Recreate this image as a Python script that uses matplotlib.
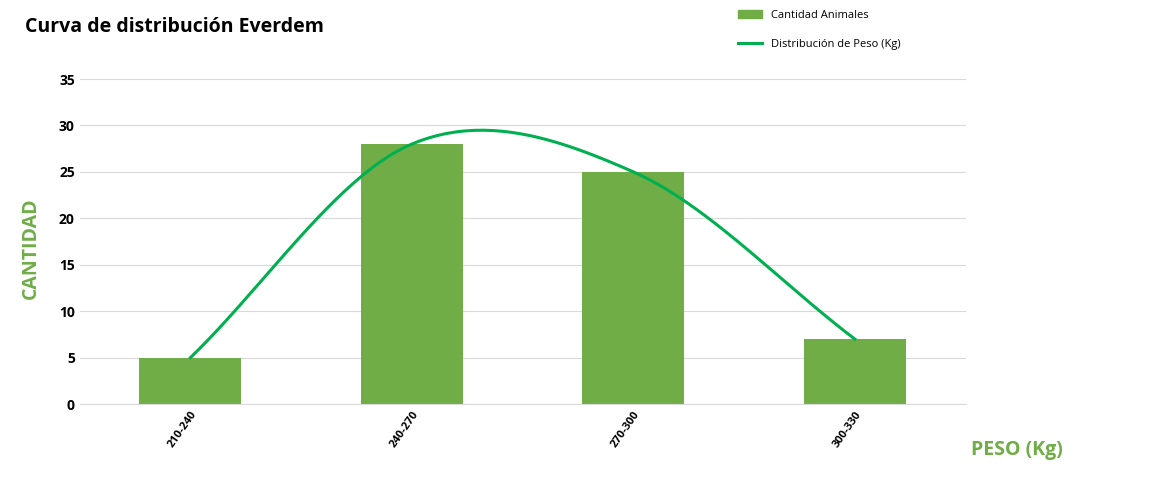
import matplotlib
matplotlib.use("Agg")
import matplotlib.pyplot as plt
import numpy as np
from matplotlib.lines import Line2D
from matplotlib.patches import Patch

categories = ["210-240", "240-270", "270-300", "300-330"]
cantidad = [5, 28, 25, 7]
distribucion = [5, 28, 25, 7]

plt.rcParams['font.family'] = ['Open Sans', 'DejaVu Sans']
green = "#70AD47"
lgreen = "#00B050"

fig = plt.figure(figsize=(11.55, 4.97), dpi=100)
ax = fig.add_axes([0.069, 0.187, 0.767, 0.654])
x = np.arange(len(categories))
ax.bar(x, cantidad, width=0.46, color=green, zorder=2)

# Catmull-Rom smoothing (Excel-like smoothed line)
P = np.array(distribucion, dtype=float)
pts = np.concatenate([[2*P[0]-P[1]], P, [2*P[-1]-P[-2]]])
xs, ys = [], []
for i in range(len(P)-1):
    p0, p1, p2, p3 = pts[i], pts[i+1], pts[i+2], pts[i+3]
    t = np.linspace(0, 1, 50)
    y = 0.5*((2*p1) + (-p0+p2)*t + (2*p0-5*p1+4*p2-p3)*t**2 + (-p0+3*p1-3*p2+p3)*t**3)
    xs.extend(i + t); ys.extend(y)
ax.plot(xs, ys, color=lgreen, lw=2.2, zorder=3)

ax.set_xlim(-0.5, 3.5)
ax.set_ylim(0, 35)
ax.set_yticks(range(0, 36, 5))
ax.grid(axis='y', color='#d9d9d9', lw=0.8, zorder=0)
ax.set_xticks(x)
ax.set_xticklabels(categories, rotation=55, ha='right', rotation_mode='anchor', fontsize=8, fontweight='bold')
ax.tick_params(axis='y', labelsize=10, length=0)
for t in ax.get_yticklabels():
    t.set_fontweight('bold')
ax.tick_params(axis='x', length=0)
for s in ['top', 'right', 'left']:
    ax.spines[s].set_visible(False)
ax.spines['bottom'].set_color('#d9d9d9')

fig.text(0.022, 0.945, "Curva de distribución Everdem", fontsize=14, fontweight='bold', va='center')
fig.text(0.027, 0.5, "CANTIDAD", rotation=90, fontsize=14, fontweight='bold', color=green, va='center', ha='center')
fig.text(0.88, 0.095, "PESO (Kg)", fontsize=14, fontweight='bold', color=green, va='center', ha='center')

fig.legend(handles=[Patch(color=green, label="Cantidad Animales"),
                    Line2D([], [], color=lgreen, lw=2.2, label="Distribución de Peso (Kg)")],
           loc='upper left', bbox_to_anchor=(0.63, 1.0), frameon=False, fontsize=8,
           labelspacing=1.6, handlelength=2.2)

fig.savefig("out.png", dpi=100)
